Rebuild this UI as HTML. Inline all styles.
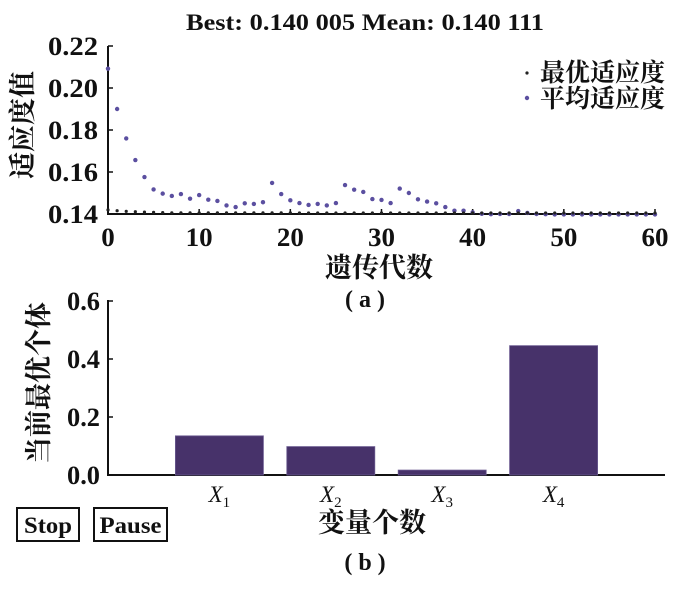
<!DOCTYPE html>
<html><head><meta charset="utf-8"><style>
body{margin:0;background:#fff;width:700px;height:591px;overflow:hidden}
svg text{font-family:"Liberation Serif","Noto Serif CJK SC",serif;fill:#111}
</style></head><body>
<svg id="c" width="700" height="591" viewBox="0 0 700 591">
<text x="365" y="30" text-anchor="middle" font-size="23" font-weight="bold" textLength="358" lengthAdjust="spacingAndGlyphs">Best: 0.140 005 Mean: 0.140 111</text>
<g id="topg"></g>
<g id="bot"></g>
<text x="365" y="307" text-anchor="middle" font-size="24" font-weight="bold">( a )</text>
<text x="365" y="570" text-anchor="middle" font-size="24" font-weight="bold">( b )</text>
<g><rect x="17" y="508" width="62" height="33" fill="#fff" stroke="#111" stroke-width="2"/><text x="48" y="533" text-anchor="middle" font-size="23" font-weight="bold" textLength="48" lengthAdjust="spacingAndGlyphs">Stop</text></g>
<g><rect x="94" y="508" width="73" height="33" fill="#fff" stroke="#111" stroke-width="2"/><text x="130.5" y="533" text-anchor="middle" font-size="23" font-weight="bold" textLength="62" lengthAdjust="spacingAndGlyphs">Pause</text></g>
</svg>
<script>
const meanFit=[0.2092,0.190,0.176,0.1657,0.1576,0.1517,0.1497,0.1486,0.1495,0.1473,0.149,0.1468,0.1462,0.1441,0.1433,0.1451,0.1448,0.1456,0.1548,0.1495,0.1465,0.1452,0.1443,0.1448,0.1441,0.1452,0.1538,0.1516,0.1505,0.1471,0.1467,0.1452,0.1521,0.150,0.147,0.1459,0.1451,0.1433,0.1416,0.1416,0.1408,0.1401,0.1399,0.14,0.14,0.1414,0.1405,0.14,0.1399,0.1398,0.1398,0.1398,0.1398,0.1398,0.1398,0.1398,0.1398,0.1398,0.1398,0.1398,0.1398];
const bestFit=[0.1415,0.1411,0.1408,0.1406,0.1404,0.1403,0.1402,0.1401,0.1401,0.1401,0.1401,0.1401,0.1401,0.1401,0.1401,0.1401,0.1401,0.1401,0.1401,0.1401,0.1401,0.14,0.14,0.14,0.14,0.14,0.14,0.14,0.14,0.14,0.14,0.14,0.14,0.14,0.14,0.14,0.14,0.14,0.14,0.14,0.14,0.14,0.14,0.14,0.14,0.14,0.14,0.14,0.14,0.14,0.14,0.14,0.14,0.14,0.14,0.14,0.14,0.14,0.14,0.14,0.14];
const yTicksTop=[0.14,0.16,0.18,0.20,0.22];
const xTicksTop=[0,10,20,30,40,50,60];
const barCats=["X","X","X","X"];
const barSubs=["1","2","3","4"];
const barVals=[0.135,0.098,0.017,0.446];
const yTicksBot=[0.0,0.2,0.4,0.6];
const NS="http://www.w3.org/2000/svg";
function mk(p,t,a){const e=document.createElementNS(NS,t);for(const k in a)e.setAttribute(k,a[k]);p.appendChild(e);return e;}
const topG=document.getElementById('topg');
const tx=g=>108+g*(655-108)/60, ty=v=>214-(v-0.14)*2100;
mk(topG,'line',{x1:108,y1:46,x2:108,y2:215,stroke:'#111','stroke-width':2});
mk(topG,'line',{x1:107,y1:214,x2:656,y2:214,stroke:'#111','stroke-width':2});
yTicksTop.forEach(v=>{mk(topG,'line',{x1:108,y1:ty(v),x2:113,y2:ty(v),stroke:'#111','stroke-width':1.5});
const s=v.toFixed(2);
const t=mk(topG,'text',{x:98,y:ty(v)+9,'text-anchor':'end','font-size':26,'font-weight':'bold',textLength:s.length*12.5,lengthAdjust:'spacingAndGlyphs'});t.textContent=s;

});
xTicksTop.forEach(v=>{mk(topG,'line',{x1:tx(v),y1:214,x2:tx(v),y2:209,stroke:'#111','stroke-width':1.5});
const s=String(v);
const t=mk(topG,'text',{x:tx(v),y:246,'text-anchor':'middle','font-size':26,'font-weight':'bold',textLength:s.length*13.5,lengthAdjust:'spacingAndGlyphs'});t.textContent=s;

});
meanFit.forEach((v,i)=>{const c=mk(topG,'circle',{cx:tx(i),cy:ty(v),r:2.2,fill:'#5b4fa0'});

});
bestFit.forEach((v,i)=>{const c=mk(topG,'circle',{cx:tx(i),cy:ty(v)-1,r:1.6,fill:'#222'});

});
let t=mk(topG,'text',{x:379,y:277,'text-anchor':'middle','font-size':27,'font-weight':'bold'});t.textContent='遗传代数';

t=mk(topG,'text',{x:0,y:0,'text-anchor':'middle','font-size':27,'font-weight':'bold',transform:'translate(32,125) rotate(-90)'});t.textContent='适应度值';

mk(topG,'circle',{cx:527,cy:73,r:1.6,fill:'#222'});
t=mk(topG,'text',{x:540,y:81,'font-size':25,'font-weight':'bold'});t.textContent='最优适应度';
mk(topG,'circle',{cx:527,cy:98,r:2.2,fill:'#5b4fa0'});
t=mk(topG,'text',{x:540,y:107,'font-size':25,'font-weight':'bold'});t.textContent='平均适应度';
const bot=document.getElementById('bot');
const bx=i=>108+i*(665-108)/5, by=v=>475-v*290;
mk(bot,'line',{x1:108,y1:300,x2:108,y2:476,stroke:'#111','stroke-width':2});
mk(bot,'line',{x1:107,y1:475,x2:665,y2:475,stroke:'#111','stroke-width':2});
yTicksBot.forEach(v=>{mk(bot,'line',{x1:108,y1:by(v),x2:113,y2:by(v),stroke:'#111','stroke-width':1.5});
const t=mk(bot,'text',{x:100,y:by(v)+9,'text-anchor':'end','font-size':26,'font-weight':'bold',textLength:33,lengthAdjust:'spacingAndGlyphs'});t.textContent=v.toFixed(1);
});
barVals.forEach((v,i)=>{const r=mk(bot,'rect',{x:bx(i+1)-44,y:by(v),width:88,height:475-by(v),fill:'#47326a',stroke:'#6a5a90','stroke-width':0.8});


const t=mk(bot,'text',{x:bx(i+1),y:502,'text-anchor':'middle','font-size':23,'font-style':'italic'});
t.innerHTML=barCats[i]+'<tspan font-size="15" dy="5" font-style="normal">'+barSubs[i]+'</tspan>';
});
t=mk(bot,'text',{x:372,y:532,'text-anchor':'middle','font-size':27,'font-weight':'bold'});t.textContent='变量个数';

t=mk(bot,'text',{x:0,y:0,'text-anchor':'middle','font-size':27,'font-weight':'bold',transform:'translate(48,383) rotate(-90)'});t.textContent='当前最优个体';

</script>
</body></html>
